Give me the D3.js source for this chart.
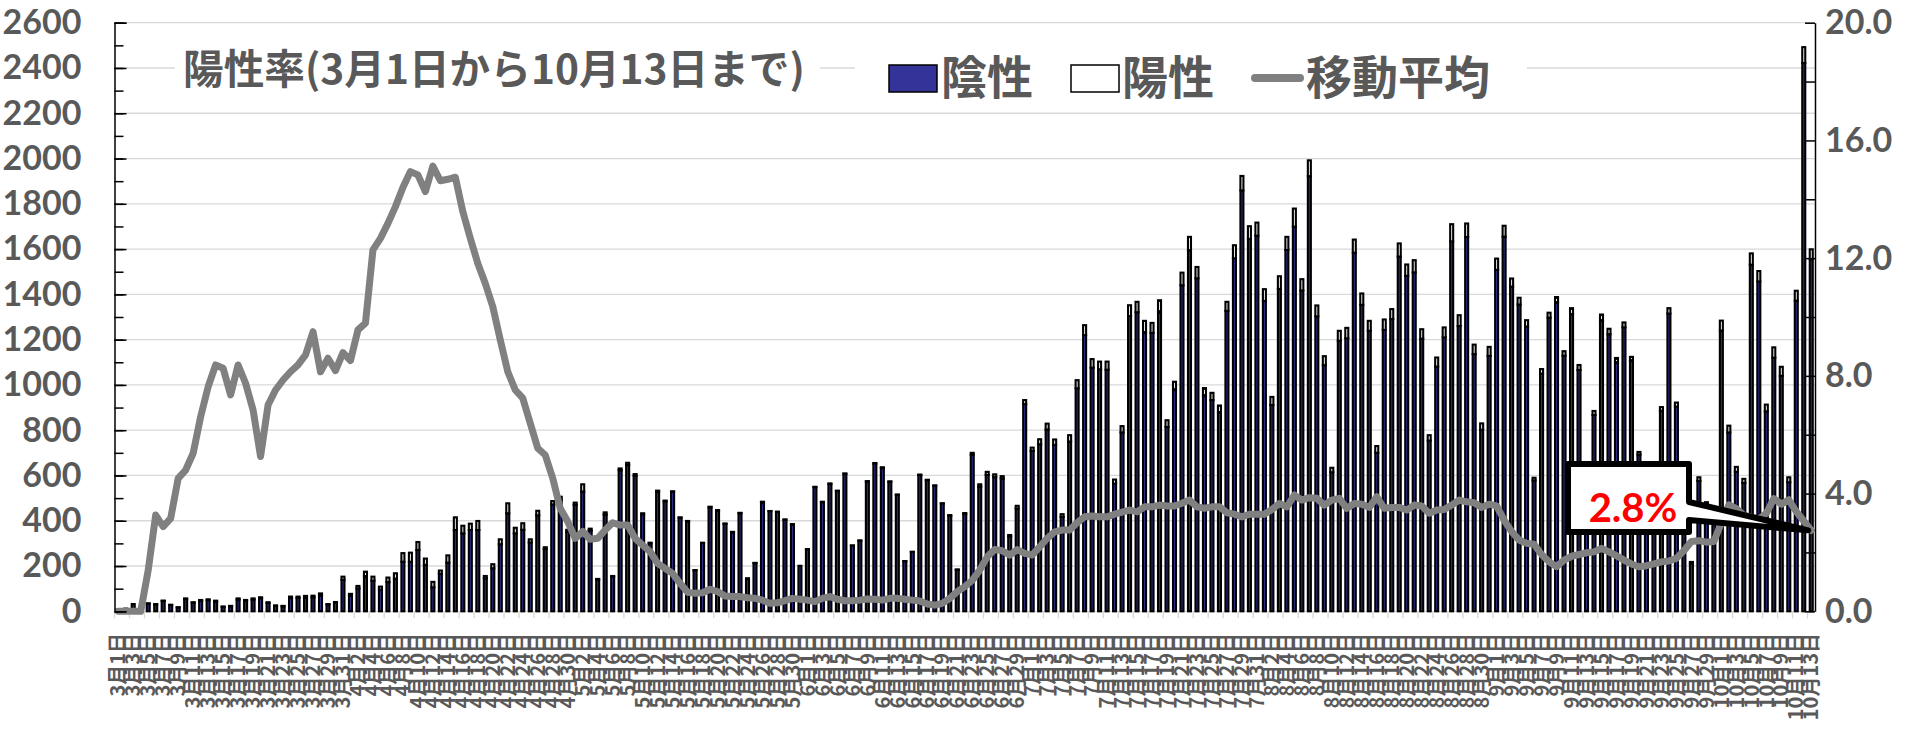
<!DOCTYPE html>
<html>
<head>
<meta charset="utf-8">
<script src="https://cdn.jsdelivr.net/npm/d3@7"></script>
<style>
  body { margin: 0; background: #fff; }
  svg { display: block; }
</style>
</head>
<body>
<div id="chart"></div>
<script>
// categories: every day from 3/1 to 10/13
const monthDays = [[3, 31], [4, 30], [5, 31], [6, 30], [7, 31], [8, 31], [9, 30], [10, 13]];
const dates = [];
monthDays.forEach(([m, n]) => { for (let d = 1; d <= n; d++) dates.push(`${m}月${d}日`); });

// total tests per day (陰性 + 陽性)
const tests = [
  8, 12, 32, 20, 35, 32, 47, 29, 18, 57,
  40, 50, 53, 47, 21, 24, 57, 50, 57, 62,
  40, 26, 24, 65, 65, 68, 69, 79, 32, 41,
  153, 77, 112, 175, 153, 109, 149, 168, 257, 259,
  306, 233, 130, 180, 247, 415, 378, 387, 399, 156,
  208, 318, 477, 369, 389, 318, 444, 283, 487, 506,
  360, 480, 561, 365, 143, 437, 156, 631, 656, 606,
  433, 303, 533, 489, 530, 415, 399, 182, 303, 462,
  447, 388, 351, 435, 146, 214, 484, 443, 440, 406,
  385, 201, 275, 550, 484, 565, 533, 609, 291, 313,
  575, 655, 636, 574, 516, 222, 263, 604, 581, 556,
  477, 425, 185, 434, 700, 561, 616, 605, 597, 337,
  466, 933, 723, 760, 829, 759, 429, 778, 1021, 1264,
  1114, 1103, 1103, 582, 818, 1352, 1367, 1283, 1274, 1374,
  844, 1014, 1496, 1654, 1521, 986, 965, 909, 1367, 1617,
  1923, 1701, 1717, 1423, 947, 1480, 1654, 1779, 1467, 1992,
  1351, 1127, 634, 1239, 1252, 1642, 1404, 1283, 730, 1289,
  1335, 1625, 1532, 1551, 1246, 778, 1121, 1254, 1710, 1308,
  1713, 1178, 830, 1168, 1558, 1703, 1470, 1385, 1286, 590,
  1070, 1319, 1388, 1149, 1339, 1088, 600, 885, 1311, 1248,
  1119, 1276, 1124, 704, 500, 450, 902, 1339, 922, 600,
  218, 592, 482, 420, 1284, 820, 638, 585, 1581, 1503,
  913, 1166, 1080, 592, 1416, 2492, 1599
];

// 陽性 per day
const positives = [
  0, 0, 0, 0, 1, 2, 1, 2, 1, 3,
  2, 4, 4, 5, 1, 2, 5, 3, 5, 4,
  3, 2, 2, 6, 6, 7, 7, 8, 2, 4,
  14, 6, 11, 20, 18, 13, 20, 24, 38, 40,
  35, 28, 24, 14, 32, 56, 34, 28, 40, 10,
  18, 22, 44, 25, 29, 14, 20, 8, 15, 12,
  9, 10, 32, 8, 3, 10, 2, 8, 10, 7,
  5, 3, 4, 3, 2, 2, 2, 1, 2, 3,
  2, 2, 2, 2, 0, 1, 2, 1, 1, 2,
  1, 0, 1, 2, 2, 3, 2, 2, 1, 1,
  2, 3, 2, 2, 2, 1, 1, 2, 2, 1,
  1, 3, 2, 4, 8, 10, 14, 12, 10, 6,
  12, 18, 14, 22, 26, 24, 12, 28, 36, 44,
  38, 34, 36, 18, 28, 48, 46, 50, 44, 52,
  30, 36, 56, 60, 50, 34, 32, 30, 40, 58,
  64, 56, 58, 52, 36, 56, 58, 80, 50, 70,
  48, 40, 20, 44, 46, 58, 50, 44, 30, 46,
  44, 58, 50, 54, 42, 24, 40, 44, 76, 48,
  60, 42, 28, 40, 50, 48, 36, 30, 28, 12,
  20, 22, 24, 20, 26, 22, 12, 18, 28, 24,
  20, 22, 18, 12, 8, 8, 16, 24, 18, 14,
  6, 16, 12, 10, 44, 30, 22, 18, 50, 46,
  30, 46, 40, 22, 44, 70, 44
];

// 移動平均 (%)
const movingAvg = [
  0, 0, 0, 0, 1.4, 3.27, 2.88, 3.16, 4.52, 4.80,
  5.37, 6.61, 7.63, 8.37, 8.26, 7.35, 8.37, 7.75, 6.84, 5.26,
  7.01, 7.52, 7.86, 8.14, 8.37, 8.71, 9.50, 8.14, 8.60, 8.18,
  8.79, 8.52, 9.56, 9.79, 12.28, 12.67, 13.18, 13.75, 14.4, 14.94,
  14.83, 14.26, 15.13, 14.63, 14.68, 14.75, 13.58, 12.67, 11.82, 11.14,
  10.35, 9.22, 8.14, 7.52, 7.24, 6.39, 5.54, 5.31, 4.52, 3.50,
  3.05, 2.48, 2.71, 2.45, 2.48, 2.76, 3.01, 2.93, 2.93, 2.48,
  2.25, 2.03, 1.63, 1.46, 1.29, 0.95, 0.65, 0.61, 0.63, 0.75,
  0.67, 0.52, 0.50, 0.50, 0.46, 0.44, 0.38, 0.27, 0.29, 0.36,
  0.44, 0.41, 0.38, 0.33, 0.44, 0.50, 0.41, 0.36, 0.36, 0.38,
  0.42, 0.41, 0.38, 0.44, 0.44, 0.41, 0.38, 0.35, 0.25, 0.21,
  0.27, 0.44, 0.67, 0.84, 1.05, 1.40, 1.85, 2.10, 2.06, 1.91,
  2.10, 1.97, 1.91, 2.19, 2.48, 2.70, 2.76, 2.76, 3.01, 3.21,
  3.24, 3.21, 3.21, 3.30, 3.37, 3.44, 3.38, 3.55, 3.55, 3.61,
  3.58, 3.58, 3.67, 3.78, 3.55, 3.50, 3.55, 3.55, 3.35, 3.30,
  3.21, 3.30, 3.30, 3.30, 3.46, 3.66, 3.55, 3.95, 3.78, 3.86,
  3.84, 3.61, 3.78, 3.84, 3.50, 3.66, 3.64, 3.53, 3.89, 3.50,
  3.53, 3.53, 3.44, 3.61, 3.58, 3.33, 3.44, 3.46, 3.61, 3.78,
  3.72, 3.69, 3.53, 3.64, 3.58, 3.10, 2.71, 2.42, 2.31, 2.28,
  1.93, 1.68, 1.52, 1.74, 1.87, 1.93, 1.99, 2.02, 2.14, 2.02,
  1.89, 1.74, 1.61, 1.51, 1.55, 1.61, 1.68, 1.71, 1.80, 2.06,
  2.37, 2.40, 2.35, 2.37, 3.01, 3.62, 3.49, 3.26, 3.20, 3.13,
  3.33, 3.83, 3.64, 3.79, 3.39, 3.07, 2.75
];

const leftTicks = [0, 200, 400, 600, 800, 1000, 1200, 1400, 1600, 1800, 2000, 2200, 2400, 2600];
const leftMinorTicks = d3.range(0, 2601, 100);
const rightTicks = [0, 4, 8, 12, 16, 20];
const rightMinorTicks = [0, 2, 4, 6, 8, 10, 12, 14, 16, 18, 20];
const titleText = '陽性率(3月1日から10月13日まで)';
const legendLabels = ['陰性', '陽性', '移動平均'];
const calloutText = '2.8%';

const width = 1917, height = 732;
const plot = { left: 114.5, right: 1815, top: 22.7, bottom: 611.3 };
const textColor = '#595959';
const numFont = 'Lato, "Open Sans", sans-serif';
const jpFont = '"Noto Sans CJK JP", "Noto Sans", sans-serif';

const svg = d3.select('#chart').append('svg')
  .attr('width', width)
  .attr('height', height);

const x = d3.scaleBand()
  .domain(dates)
  .range([plot.left, plot.right])
  .paddingInner(0.6)
  .paddingOuter(0.3);

const yL = d3.scaleLinear().domain([0, 2600]).range([plot.bottom, plot.top]);
const yR = d3.scaleLinear().domain([0, 20]).range([plot.bottom, plot.top]);

// gridlines
svg.append('g')
  .selectAll('line')
  .data(leftTicks.filter(d => d > 0))
  .join('line')
  .attr('x1', plot.left)
  .attr('x2', plot.right)
  .attr('y1', d => yL(d))
  .attr('y2', d => yL(d))
  .attr('stroke', '#d9d9d9')
  .attr('stroke-width', 1.3);

// x axis baseline + ticks every 2 days
const step = x.step();
const xg = svg.append('g');
xg.append('line')
  .attr('x1', plot.left).attr('x2', plot.right)
  .attr('y1', plot.bottom).attr('y2', plot.bottom)
  .attr('stroke', '#d9d9d9').attr('stroke-width', 1.3);
xg.selectAll('line.tick')
  .data(dates.filter((d, i) => i % 2 === 0))
  .join('line')
  .attr('class', 'tick')
  .attr('x1', d => x(d) + x.bandwidth() / 2 - step / 2)
  .attr('x2', d => x(d) + x.bandwidth() / 2 - step / 2)
  .attr('y1', plot.bottom)
  .attr('y2', plot.bottom + 7)
  .attr('stroke', '#d9d9d9')
  .attr('stroke-width', 1.3);

// stacked bars
const bars = svg.append('g');
bars.selectAll('rect.neg')
  .data(dates)
  .join('rect')
  .attr('class', 'neg')
  .attr('x', d => x(d))
  .attr('width', x.bandwidth())
  .attr('y', (d, i) => yL(tests[i] - positives[i]))
  .attr('height', (d, i) => yL(0) - yL(tests[i] - positives[i]))
  .attr('fill', '#333399')
  .attr('stroke', '#000')
  .attr('stroke-width', 2.1);

bars.selectAll('rect.pos')
  .data(dates)
  .join('rect')
  .attr('class', 'pos')
  .attr('x', d => x(d))
  .attr('width', x.bandwidth())
  .attr('y', (d, i) => yL(tests[i]))
  .attr('height', (d, i) => yL(tests[i] - positives[i]) - yL(tests[i]))
  .attr('fill', '#fff')
  .attr('stroke', '#000')
  .attr('stroke-width', 2.1);

// moving average line
const line = d3.line()
  .x((d, i) => x(dates[i]) + x.bandwidth() / 2)
  .y(d => yR(d));

svg.append('path')
  .datum(movingAvg)
  .attr('fill', 'none')
  .attr('stroke', '#808080')
  .attr('stroke-width', 7)
  .attr('stroke-linejoin', 'round')
  .attr('stroke-linecap', 'round')
  .attr('d', line);

// left axis
const axL = svg.append('g').attr('transform', `translate(${plot.left},0)`);
axL.call(d3.axisLeft(yL).tickValues(leftTicks).tickSize(-12).tickPadding(33).tickFormat(d3.format('d')))
  .call(g => g.select('.domain').attr('stroke', '#000').attr('stroke-width', 1.5))
  .call(g => g.selectAll('.tick line').attr('stroke', '#000').attr('stroke-width', 1.5))
  .call(g => g.selectAll('text')
    .attr('fill', textColor)
    .style('font-family', numFont)
    .style('font-weight', 'bold')
    .style('font-size', '34px'));
svg.append('g').attr('transform', `translate(${plot.left},0)`)
  .call(d3.axisLeft(yL).tickValues(leftMinorTicks).tickSize(-9).tickFormat(''))
  .call(g => g.select('.domain').remove())
  .call(g => g.selectAll('.tick line').attr('stroke', '#000').attr('stroke-width', 1.5));

// right axis
const axR = svg.append('g').attr('transform', `translate(${plot.right},0)`);
axR.call(d3.axisRight(yR).tickValues(rightTicks).tickSize(0).tickPadding(10).tickFormat(d3.format('.1f')))
  .call(g => g.select('.domain').attr('stroke', '#000').attr('stroke-width', 1.5))
  .call(g => g.selectAll('text')
    .attr('fill', textColor)
    .style('font-family', numFont)
    .style('font-weight', 'bold')
    .style('font-size', '34px'));
svg.append('g').attr('transform', `translate(${plot.right},0)`)
  .call(d3.axisRight(yR).tickValues(rightMinorTicks).tickSize(-10).tickFormat(''))
  .call(g => g.select('.domain').remove())
  .call(g => g.selectAll('.tick line').attr('stroke', '#000').attr('stroke-width', 1.5));

// x labels (every 2 days, rotated)
svg.append('g')
  .selectAll('text')
  .data(dates.filter((d, i) => i % 2 === 0))
  .join('text')
  .attr('transform', d => `translate(${x(d) + x.bandwidth() / 2},633) rotate(-90)`)
  .attr('dy', '0.36em')
  .attr('text-anchor', 'end')
  .attr('fill', textColor)
  .style('font-family', jpFont)
  .style('font-weight', 'bold')
  .style('font-size', '20px')
  .text(d => d);

// title
svg.append('rect')
  .attr('x', 175).attr('y', 36).attr('width', 645).attr('height', 68)
  .attr('fill', '#fff');
const title = svg.append('text')
  .attr('x', 183)
  .attr('y', 84)
  .attr('fill', textColor)
  .style('font-family', jpFont)
  .style('font-weight', 'bold')
  .style('font-size', '34px')
  .text(titleText);
const tw = title.node().getComputedTextLength();
title.style('font-size', `${34 * 622 / tw}px`);

// legend
const lg = svg.append('g');
lg.append('rect')
  .attr('x', 855).attr('y', 36).attr('width', 672).attr('height', 74)
  .attr('fill', '#fff');
lg.append('rect')
  .attr('x', 889).attr('y', 65).attr('width', 48).attr('height', 27)
  .attr('fill', '#333399').attr('stroke', '#000').attr('stroke-width', 1.5);
lg.append('rect')
  .attr('x', 1071).attr('y', 65).attr('width', 48).attr('height', 27)
  .attr('fill', '#fff').attr('stroke', '#000').attr('stroke-width', 1.5);
lg.append('line')
  .attr('x1', 1255).attr('x2', 1300).attr('y1', 78).attr('y2', 78)
  .attr('stroke', '#808080').attr('stroke-width', 8).attr('stroke-linecap', 'round');
[[941, legendLabels[0]], [1122, legendLabels[1]], [1306, legendLabels[2]]].forEach(([lx, t]) => {
  lg.append('text')
    .attr('x', lx)
    .attr('y', 94)
    .attr('fill', textColor)
    .style('font-family', jpFont)
    .style('font-weight', 'bold')
    .style('font-size', '46px')
    .text(t);
});

// callout pointing at the last moving-average value
const last = dates.length - 1;
const tipX = x(dates[last]) + x.bandwidth() / 2 - 3;
const tipY = yR(movingAvg[last]);
const bx0 = 1568, bx1 = 1689, by0 = 464, by1 = 532;
svg.append('path')
  .attr('d', `M${bx0},${by0} H${bx1} V${by0 + 38} L${tipX},${tipY} L${bx1},${by0 + 56} V${by1} H${bx0} Z`)
  .attr('fill', '#fff')
  .attr('stroke', '#000')
  .attr('stroke-width', 6)
  .attr('stroke-linejoin', 'round');
svg.append('text')
  .attr('x', 1633)
  .attr('y', 522)
  .attr('text-anchor', 'middle')
  .attr('fill', '#ff0000')
  .style('font-family', numFont)
  .style('font-weight', 'bold')
  .style('font-size', '40px')
  .text(calloutText);
</script>
</body>
</html>
